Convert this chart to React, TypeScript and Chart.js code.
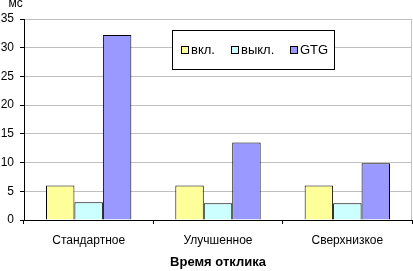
import React, { useEffect, useRef } from "react";
import { Chart, registerables } from "chart.js";

Chart.register(...registerables);

const categories = ["Стандартное", "Улучшенное", "Сверхнизкое"];
const seriesLabels = ["вкл.", "выкл.", "GTG"];
const seriesOn = [6, 6, 6];
const seriesOff = [3.1, 2.9, 2.9];
const seriesGTG = [32.2, 13.5, 9.9];
const yMin = 0;
const yMax = 35;
const yStep = 5;
const yUnit = "мс";
const xTitle = "Время отклика";

const FONT = "'Liberation Sans', Arial, sans-serif";

const extrasPlugin = {
  id: "extras",
  afterDraw(chart: any) {
    const ctx = chart.ctx as CanvasRenderingContext2D;
    const area = chart.chartArea;
    ctx.save();
    // right border of plot area
    ctx.strokeStyle = "#c0c0c0";
    ctx.lineWidth = 1;
    ctx.beginPath();
    ctx.moveTo(Math.round(area.right) - 0.5, area.top);
    ctx.lineTo(Math.round(area.right) - 0.5, area.bottom);
    ctx.stroke();

    // unit label
    ctx.fillStyle = "#000";
    ctx.font = `12px ${FONT}`;
    ctx.textAlign = "center";
    ctx.textBaseline = "alphabetic";
    ctx.fillText(yUnit, 15.5, 7);

    // legend box
    const bx = 172.5, by = 30.5, bw = 162, bh = 39;
    ctx.fillStyle = "#fff";
    ctx.fillRect(bx, by, bw, bh);
    ctx.strokeStyle = "#000";
    ctx.strokeRect(bx, by, bw, bh);
    const xs = [181, 231, 290];
    ctx.font = `13px ${FONT}`;
    ctx.textAlign = "left";
    chart.data.datasets.forEach((ds: any, i: number) => {
      const x = xs[i];
      ctx.fillStyle = ds.backgroundColor;
      ctx.fillRect(x + 0.5, 46.5, 7, 7);
      ctx.strokeStyle = "#000";
      ctx.strokeRect(x + 0.5, 46.5, 7, 7);
      ctx.fillStyle = "#000";
      ctx.fillText(ds.label, x + 10, 54);
    });
    ctx.restore();
  },
};

export default function App() {
  const ref = useRef<HTMLCanvasElement>(null);
  useEffect(() => {
    if (!ref.current) return;
    const chart = new Chart(ref.current, {
      type: "bar",
      data: {
        labels: categories,
        datasets: [
          { label: seriesLabels[0], data: seriesOn, backgroundColor: "#FFFF99", borderColor: "#000", borderWidth: 1 },
          { label: seriesLabels[1], data: seriesOff, backgroundColor: "#CCFFFF", borderColor: "#000", borderWidth: 1 },
          { label: seriesLabels[2], data: seriesGTG, backgroundColor: "#9999FF", borderColor: "#000", borderWidth: 1 },
        ],
      },
      options: {
        animation: false,
        responsive: false,
        devicePixelRatio: 1,
        layout: { padding: { top: 19, right: 1, left: 0, bottom: 0 } },
        datasets: { bar: { categoryPercentage: 0.66, barPercentage: 1 } },
        plugins: { legend: { display: false }, tooltip: { enabled: false } },
        scales: {
          x: {
            afterFit: (s: any) => { s.height = 51; },
            grid: { drawOnChartArea: false, drawTicks: true, tickLength: 4, color: "#000", tickColor: "#000", offset: true },
            border: { color: "#000", width: 1 },
            ticks: { color: "#000", font: { family: FONT, size: 12 }, padding: 9, maxRotation: 0 },
            title: { display: true, text: xTitle, color: "#000", font: { family: FONT, size: 13, weight: "bold" }, padding: { top: 0, bottom: 1 } },
          },
          y: {
            min: yMin,
            max: yMax,
            afterFit: (s: any) => { s.width = 24; },
            grid: { color: "#c0c0c0", tickColor: "#000", tickLength: 4, drawTicks: true },
            border: { color: "#000", width: 1 },
            ticks: { stepSize: yStep, color: "#000", font: { family: FONT, size: 12 }, padding: 6 },
          },
        },
      },
      plugins: [extrasPlugin],
    } as any);
    return () => chart.destroy();
  }, []);
  return (
    <div style={{ position: "absolute", left: 0, top: 0, width: 413, height: 271, background: "#fff" }}>
      <canvas ref={ref} width={413} height={271} />
    </div>
  );
}
